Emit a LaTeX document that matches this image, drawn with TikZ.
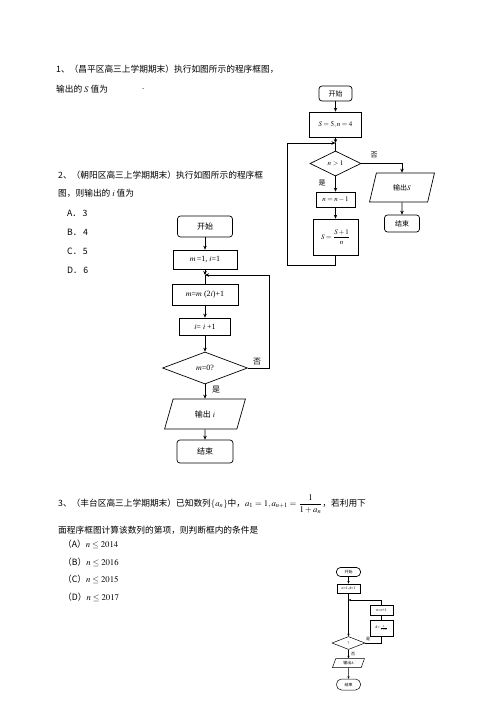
\documentclass[tikz,border=0pt]{standalone}
\usepackage{amsmath}
\usepackage{mathptmx}
\usepackage{fontspec}
\setmainfont{Liberation Serif}
\newfontfamily\cjk{Noto Sans CJK SC}
\usetikzlibrary{shapes.geometric,arrows.meta}
\begin{document}
\begin{tikzpicture}[x=1pt,y=-1pt,
  txt/.style={anchor=west, inner sep=0pt, font=\fontsize{8.7}{10}\selectfont},
  box/.style={draw, line width=0.7pt, inner sep=1pt, align=center},
  term/.style={box, rounded corners=3pt},
  dia/.style={draw, line width=0.7pt, diamond, aspect=2, inner sep=0pt},
  io/.style={draw, line width=0.7pt, trapezium, trapezium left angle=70, trapezium right angle=110, trapezium stretches=true, inner sep=0pt},
  arr/.style={-{Stealth[length=4pt,width=3.5pt]}, line width=0.7pt},
  ln/.style={line width=0.7pt},
  arrs/.style={-{Stealth[length=2.5pt,width=2.2pt]}, line width=0.5pt},
  lns/.style={line width=0.5pt},
  ca/.style={font=\fontsize{7}{8}\selectfont},
  cb/.style={font=\fontsize{8}{9}\selectfont},
  cc/.style={font=\fontsize{4}{5}\selectfont},
  lab/.style={inner sep=0pt}
]
\useasboundingbox (0,0) rectangle (496,702);

% ---------- question texts ----------
\node[txt] (t1) at (56,69) {\cjk 1、（昌平区高三上学期期末）执行如图所示的程序框图，};
\node[txt] (t2) at (56,89) {\cjk 输出的 $S$ 值为};
\node[txt] (t3) at (142,89) {.};

\node[txt] (q2a) at (58,175) {\cjk 2、（朝阳区高三上学期期末）执行如图所示的程序框};
\node[txt] (q2b) at (58,193) {\cjk 图，则输出的 $i$ 值为};
\node[txt] (oa) at (67,213) {\cjk A．\,3};
\node[txt] (ob) at (67,232) {\cjk B．\,4};
\node[txt] (oc) at (67,251) {\cjk C．\,5};
\node[txt] (od) at (67,270) {\cjk D．\,6};

\node[txt] (q3a) at (58,504) {\cjk 3、（丰台区高三上学期期末）已知数列$\{a_n\}$中，$a_1=1,a_{n+1}=\dfrac{1}{1+a_n}$，若利用下};
\node[txt] (q3b) at (58,530) {\cjk 面程序框图计算该数列的第项，则判断框内的条件是};
\node[txt] (pa) at (63,544) {\cjk （A）$n\leq 2014$};
\node[txt] (pb) at (63,562) {\cjk （B）$n\leq 2016$};
\node[txt] (pc) at (63,579) {\cjk （C）$n\leq 2015$};
\node[txt] (pd) at (63,597) {\cjk （D）$n\leq 2017$};

% ---------- flowchart 1 ----------
\node[term,ca,minimum width=33pt,minimum height=15pt] (s1) at (335.5,93.5) {\cjk 开始};
\node[box,ca,minimum width=52pt,minimum height=25pt] (b1) at (335.5,124.5) {$S=5,n=4$};
\coordinate (j1) at (335.5,143);
\node[dia,ca,minimum width=51pt,minimum height=25pt] (d1) at (335.5,163.5) {$n>1$};
\node[box,ca,minimum width=39pt,minimum height=15pt] (b2) at (335.5,199.5) {$n=n-1$};
\node[box,ca,minimum width=45pt,minimum height=36pt] (b3) at (335.5,237) {$S=\dfrac{S+1}{n}$};
\coordinate (l1) at (287,265);
\node[io,ca,minimum width=65pt,minimum height=29pt] (o1) at (402,187.5) {\cjk 输出$S$};
\node[term,ca,minimum width=35pt,minimum height=17pt] (e1) at (402,223.5) {\cjk 结束};
\node[lab,ca] (n1) at (374,155) {\cjk 否};
\node[lab,ca] (y1) at (322,183) {\cjk 是};

\draw[arr] (s1) -- (b1);
\draw[arr] (b1) -- (j1);
\draw[ln] (j1) -- (d1);
\draw[arr] (d1) -- (b2);
\draw[arr] (b2) -- (b3);
\draw[arr] (b3.south) |- (l1) |- (j1);
\draw[arr] (d1.east) -| (o1.north);
\draw[arr] (o1) -- (e1);

% ---------- flowchart 2 ----------
\node[term,cb,minimum width=55pt,minimum height=21pt] (s2) at (205,226.5) {\cjk 开始};
\node[box,cb,minimum width=64pt,minimum height=19pt] (b4) at (205,259.5) {$m$\,=1, $i$=1};
\coordinate (j2) at (205,275);
\node[box,cb,minimum width=66pt,minimum height=21pt] (b5) at (205,294.5) {$m$=$m$ (2$i$)+1};
\node[box,cb,minimum width=51pt,minimum height=17pt] (b6) at (205,326.5) {$i$= $i$ +1};
\node[dia,cb,minimum width=85pt,minimum height=32pt] (d2) at (205,368) {$m$=0?};
\coordinate (r2) at (269,368);
\node[io,cb,minimum width=81pt,minimum height=30pt] (o2) at (205,414) {\cjk 输出 $i$};
\node[term,cb,minimum width=56pt,minimum height=23pt] (e2) at (205,451.5) {\cjk 结束};
\node[lab,cb] (n2) at (257,362) {\cjk 否};
\node[lab,cb] (y2) at (216,390) {\cjk 是};

\draw[arr] (s2) -- (b4);
\draw[arr] (b4) -- (j2);
\draw[ln] (j2) -- (b5);
\draw[arr] (b5) -- (b6);
\draw[arr] (b6) -- (d2);
\draw[arr] (d2) -- (o2);
\draw[arr] (o2) -- (e2);
\draw[arr] (d2.east) -- (r2) |- (j2);

% ---------- flowchart 3 ----------
\node[box,cc,rounded corners=4pt,minimum width=24pt,minimum height=9pt] (s3) at (348.5,572) {\cjk 开始};
\node[box,cc,minimum width=23pt,minimum height=9pt] (b7) at (348.5,588.5) {$n$=1,$A$=1};
\coordinate (j3) at (348.5,600);
\node[dia,cc,line width=0.5pt,minimum width=33pt,minimum height=13pt] (d3) at (348.5,643) {?};
\node[box,cc,line width=0.5pt,minimum width=23pt,minimum height=10pt] (b8) at (381.5,610) {$n$=$n$+1};
\node[box,cc,line width=0.5pt,minimum width=23pt,minimum height=16pt] (b9) at (381.5,628) {$A$=$\frac{1}{1+A}$};
\node[io,cc,line width=0.5pt,minimum width=32pt,minimum height=9pt] (o3) at (348.5,663) {\cjk 输出$A$};
\node[box,cc,line width=0.5pt,rounded corners=5pt,minimum width=24pt,minimum height=11pt] (e3) at (348.5,684.5) {\cjk 结束};
\node[lab,cc] (y3) at (368,639) {\cjk 是};
\node[lab,cc] (n3) at (353,654) {\cjk 否};

\draw[arrs] (s3) -- (b7);
\draw[lns] (b7) -- (j3);
\draw[arrs] (j3) -- (d3);
\draw[lns] (d3.east) -| (b9.south);
\draw[lns] (b9) -- (b8);
\draw[arrs] (b8.north) |- (j3);
\draw[arrs] (d3) -- (o3);
\draw[arrs] (o3) -- (e3);
\end{tikzpicture}
\end{document}
